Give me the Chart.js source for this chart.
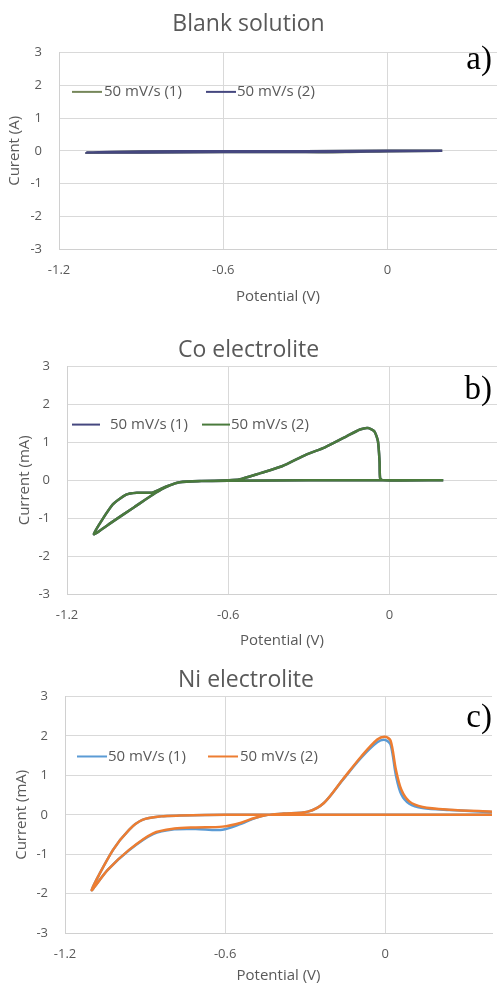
<!DOCTYPE html>
<html>
<head>
<meta charset="utf-8">
<script src="https://cdn.jsdelivr.net/npm/chart.js@4.4.0/dist/chart.umd.min.js"></script>
<style>
  body { margin: 0; background: #fff; width: 497px; height: 985px; position: relative; overflow: hidden; }
  canvas { position: absolute; left: 0; }
  .tag { position: absolute; right: 5px; font: 33px/33px "Liberation Serif", "Times New Roman", serif; color: #000; }
</style>
</head>
<body>
<canvas id="blank" width="497" height="306" style="top:0"></canvas>
<canvas id="cobalt" width="497" height="330" style="top:320px"></canvas>
<canvas id="nickel" width="497" height="335" style="top:650px"></canvas>
<div class="tag" style="top:42px">a)</div>
<div class="tag" style="top:372px">b)</div>
<div class="tag" style="top:700px">c)</div>
<script>
// tick values shared by the three panels
const potentialTicks = [-1.2, -0.6, 0];
const currentTicks = [-3, -2, -1, 0, 1, 2, 3];
const seriesLabels = ['50 mV/s (1)', '50 mV/s (2)'];

// a) blank solution
const blankPotential = [0.2, 0.0, -0.3, -0.6, -0.9, -1.1, -0.9, -0.6, -0.3, -0.15, 0.0, 0.2];
const blankCurrent1 = [0.0, 0.0, -0.01, -0.01, -0.02, -0.06, -0.05, -0.04, -0.04, -0.04, -0.01, 0.0];
const blankCurrent2 = [0.0, 0.0, -0.01, -0.01, -0.02, -0.05, -0.05, -0.04, -0.04, -0.03, -0.01, 0.0];

// b) Co electrolite
const coPotential = [0.2, -0.03, -0.3, -0.6, -0.7, -0.78, -0.83, -0.87, -0.95, -1.03, -1.1, -1.03, -0.98, -0.94, -0.88, -0.83, -0.78, -0.7, -0.6, -0.56, -0.48, -0.4, -0.31, -0.24, -0.16, -0.11, -0.08, -0.056, -0.043, -0.037, -0.035, -0.025, 0.2];
const coCurrent1 = [0.0, 0.0, 0.0, -0.01, -0.02, -0.05, -0.17, -0.33, -0.71, -1.09, -1.42, -0.64, -0.38, -0.33, -0.32, -0.16, -0.05, -0.02, 0.0, 0.02, 0.19, 0.37, 0.68, 0.87, 1.16, 1.34, 1.38, 1.29, 1.03, 0.5, 0.06, 0.0, 0.0];
const coCurrent2 = [0.0, 0.0, 0.0, -0.01, -0.02, -0.05, -0.17, -0.33, -0.71, -1.09, -1.42, -0.64, -0.38, -0.33, -0.32, -0.16, -0.05, -0.02, 0.0, 0.02, 0.19, 0.37, 0.68, 0.87, 1.16, 1.34, 1.38, 1.29, 1.03, 0.5, 0.06, 0.0, 0.0];

// c) Ni electrolite
const niPotential = [0.4, 0.0, -0.3, -0.6, -0.77, -0.84, -0.91, -0.96, -1.02, -1.1, -1.04, -0.96, -0.87, -0.79, -0.71, -0.61, -0.54, -0.49, -0.44, -0.38, -0.29, -0.23, -0.16, -0.09, -0.03, 0.0, 0.02, 0.04, 0.06, 0.09, 0.14, 0.24, 0.4];
const niCurrent1 = [0.0, 0.0, 0.0, 0.0, -0.02, -0.04, -0.13, -0.38, -0.89, -1.91, -1.40, -0.90, -0.49, -0.37, -0.36, -0.38, -0.23, -0.09, 0.0, 0.03, 0.08, 0.3, 0.88, 1.45, 1.84, 1.9, 1.78, 1.0, 0.52, 0.28, 0.17, 0.12, 0.07];
const niCurrent2 = [0.0, 0.0, 0.0, 0.0, -0.02, -0.04, -0.13, -0.38, -0.89, -1.91, -1.40, -0.89, -0.47, -0.35, -0.32, -0.30, -0.2, -0.08, 0.0, 0.03, 0.08, 0.3, 0.89, 1.48, 1.91, 1.98, 1.88, 1.14, 0.64, 0.34, 0.2, 0.13, 0.08];

Chart.defaults.font.family = '"Open Sans", sans-serif';
Chart.defaults.color = '#595959';

const toPoints = (xs, ys) => xs.map((x, i) => ({ x: x, y: ys[i] }));

// legend drawn inside the plot area, like the spreadsheet original
const insideLegend = {
  id: 'insideLegend',
  afterDatasetsDraw(chart, args, opts) {
    const ctx = chart.ctx;
    const y = chart.scales.y.getPixelForValue(opts.y);
    ctx.save();
    ctx.font = '15px "Open Sans", sans-serif';
    ctx.textBaseline = 'middle';
    chart.data.datasets.forEach((ds, i) => {
      const x = chart.chartArea.left + opts.x[i];
      ctx.strokeStyle = ds.borderColor;
      ctx.lineWidth = 2;
      ctx.beginPath();
      ctx.moveTo(x, y);
      ctx.lineTo(x + opts.line, y);
      ctx.stroke();
      ctx.fillStyle = '#595959';
      ctx.fillText(ds.label, x + opts.line + opts.gap[i], y);
    });
    ctx.restore();
  }
};

function makeChart(id, cfg) {
  const sets = cfg.series.map((s, i) => ({
    label: seriesLabels[i],
    data: toPoints(s.x, s.y),
    borderColor: s.color,
    borderWidth: 2.5,
    showLine: true,
    pointRadius: 0,
    tension: cfg.tension,
    order: 1 - i
  }));
  return new Chart(document.getElementById(id), {
    type: 'scatter',
    data: { datasets: sets },
    plugins: [insideLegend],
    options: {
      responsive: false,
      animation: false,
      layout: { padding: { left: 0, right: cfg.padRight, top: 0, bottom: 0 } },
      plugins: {
        legend: { display: false },
        tooltip: { enabled: false },
        title: {
          display: true,
          text: cfg.title,
          color: '#595959',
          font: { size: 23, weight: 'normal' },
          padding: { top: cfg.titleTop, bottom: cfg.titleBottom }
        },
        insideLegend: cfg.legend
      },
      scales: {
        x: {
          type: 'linear',
          min: -1.2,
          max: 0.4,
          afterBuildTicks: axis => { axis.ticks = potentialTicks.map(v => ({ value: v })); },
          afterFit: axis => { axis.height = cfg.xHeight; },
          grid: { color: '#d9d9d9', drawTicks: false },
          border: { color: '#d0d0d0' },
          ticks: { padding: 13, font: { size: 13 }, callback: v => String(v) },
          title: { display: true, text: 'Potential (V)', font: { size: 15 }, padding: 0 }
        },
        y: {
          min: -3,
          max: 3,
          afterBuildTicks: axis => { axis.ticks = currentTicks.map(v => ({ value: v })); },
          afterFit: axis => { axis.width = cfg.yWidth; },
          grid: { color: '#d9d9d9', drawTicks: false },
          border: { color: '#d0d0d0' },
          ticks: { padding: 17, font: { size: 13 } },
          title: { display: true, text: cfg.yTitle, font: { size: 15 }, padding: { top: cfg.yTitlePad, bottom: 0 } }
        }
      }
    }
  });
}

makeChart('blank', {
  title: 'Blank solution',
  yTitle: 'Curent (A)',
  titleTop: 11, titleBottom: 14,
  xHeight: 57, yWidth: 59, yTitlePad: 6, padRight: 0, tension: 0.3,
  legend: { y: 1.8, x: [13, 147], line: 30, gap: [2, 1] },
  series: [
    { x: blankPotential, y: blankCurrent1, color: '#76875a' },
    { x: blankPotential, y: blankCurrent2, color: '#45477f' }
  ]
});

makeChart('cobalt', {
  title: 'Co electrolite',
  yTitle: 'Current (mA)',
  titleTop: 17, titleBottom: 2,
  xHeight: 56, yWidth: 67, yTitlePad: 16, padRight: 0, tension: 0.2,
  legend: { y: 1.47, x: [5, 135], line: 28, gap: [10, 1] },
  series: [
    { x: coPotential, y: coCurrent1, color: '#45477f' },
    { x: coPotential, y: coCurrent2, color: '#4a7a3c' }
  ]
});

makeChart('nickel', {
  title: 'Ni electrolite',
  yTitle: 'Current (mA)',
  titleTop: 17, titleBottom: 2,
  xHeight: 52, yWidth: 65, yTitlePad: 13, padRight: 5, tension: 0.3,
  legend: { y: 1.48, x: [12, 143], line: 30, gap: [1, 2] },
  series: [
    { x: niPotential, y: niCurrent1, color: '#5b9bd5' },
    { x: niPotential, y: niCurrent2, color: '#ed7d31' }
  ]
});
</script>
</body>
</html>
